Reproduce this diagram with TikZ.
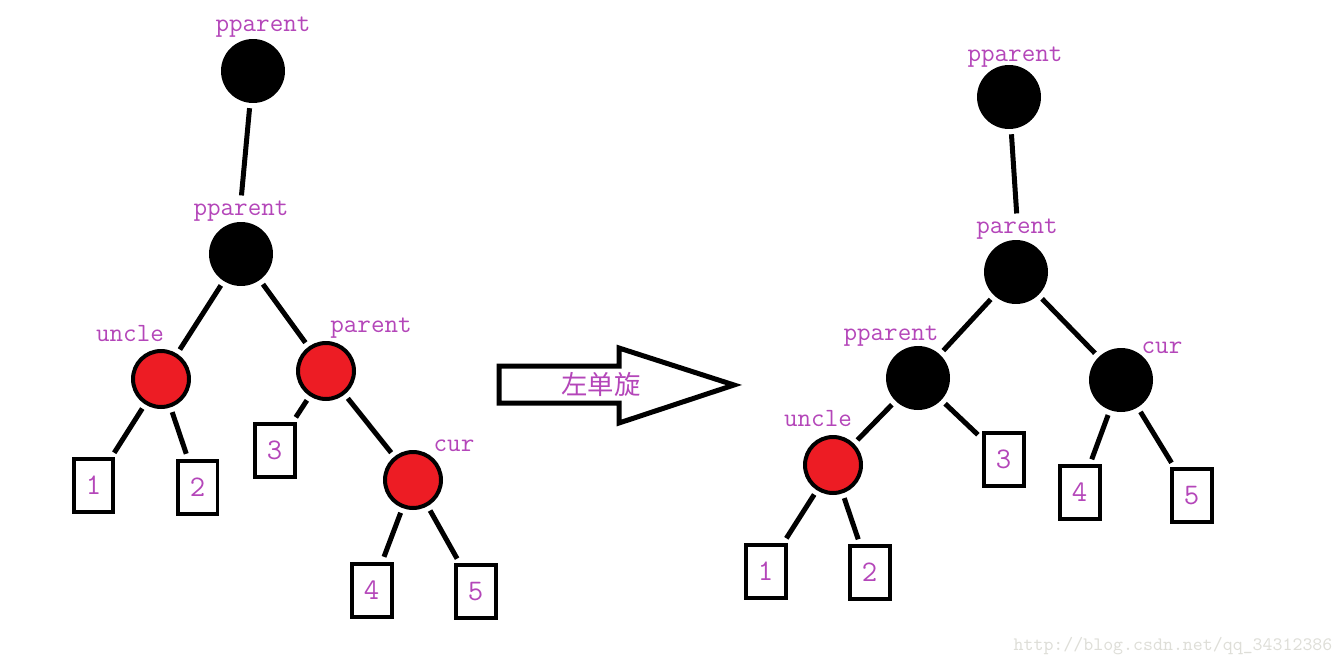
\documentclass[tikz,border=0pt]{standalone}
\usepackage{fontspec}
\newfontfamily\cjk{Noto Sans CJK SC}
\definecolor{lab}{RGB}{180,70,185}
\definecolor{rbred}{RGB}{237,28,36}
\definecolor{wm}{RGB}{222,222,216}
\begin{document}
\begin{tikzpicture}[x=0.02cm,y=-0.02cm,
  blk/.style={circle,fill=black,minimum size=1.28cm,inner sep=0pt},
  rd/.style={circle,fill=rbred,draw=black,line width=0.08cm,minimum size=1.12cm,inner sep=0pt},
  leaf/.style={rectangle,draw=black,line width=0.08cm,minimum width=0.8cm,minimum height=1.06cm,inner sep=0pt,
     text=lab,font=\ttfamily\fontsize{17}{17}\selectfont},
  lbl/.style={text=lab,font=\ttfamily\fontsize{15}{15}\selectfont,inner sep=0pt},
  edge/.style={line width=0.1cm,shorten <=0.1cm,shorten >=0.1cm}]
\useasboundingbox (0,0) rectangle (1344,666);
% ---------- left tree ----------
\node[blk] (Lpp) at (253,71) {};
\node[lbl] (LppL) at (263,27) {pparent};
\node[blk] (Lg) at (241,254) {};
\node[lbl] (LgL) at (241,211) {pparent};
\node[rd] (Lu) at (161,379) {};
\node[lbl] (LuL) at (130,334) {uncle};
\node[rd] (Lp) at (326,371) {};
\node[lbl] (LpL) at (371,328) {parent};
\node[rd] (Lc) at (413,480) {};
\node[lbl] (LcL) at (454,446) {cur};
\node[leaf] (L1) at (93.5,485.5) {1};
\node[leaf] (L2) at (197.5,487) {2};
\node[leaf] (L3) at (274.5,450) {3};
\node[leaf] (L4) at (371.5,590) {4};
\node[leaf] (L5) at (475.5,591.5) {5};
\draw[edge] (Lpp) -- (LgL.north);
\draw[edge] (Lg) -- (Lu);
\draw[edge] (Lg) -- (Lp);
\draw[edge] (Lu) -- (L1);
\draw[edge] (Lu) -- (L2);
\draw[edge] (Lp) -- (L3);
\draw[edge] (Lp) -- (Lc);
\draw[edge] (Lc) -- (L4);
\draw[edge] (Lc) -- (L5);
% ---------- arrow ----------
\coordinate (a1) at (499,366);
\coordinate (a2) at (619,366);
\coordinate (a3) at (619,348);
\coordinate (a4) at (734,385);
\coordinate (a5) at (619,423);
\coordinate (a6) at (619,403);
\coordinate (a7) at (499,403);
\draw[line width=0.1cm,line join=miter] (a1) -- (a2) -- (a3) -- (a4) -- (a5) -- (a6) -- (a7) -- cycle;
\node[text=lab,font=\cjk\fontsize{15}{15}\selectfont,inner sep=0pt] (rot) at (601,384) {左单旋};
% ---------- right tree ----------
\node[blk] (Rpp) at (1009,97) {};
\node[lbl] (RppL) at (1015,57) {pparent};
\node[blk] (Rp) at (1016,272) {};
\node[lbl] (RpL) at (1017,229) {parent};
\node[blk] (Rg) at (918,378) {};
\node[lbl] (RgL) at (891,336) {pparent};
\node[blk] (Rc) at (1121,380) {};
\node[lbl] (RcL) at (1162,348) {cur};
\node[rd] (Ru) at (833,465) {};
\node[lbl] (RuL) at (818,419) {uncle};
\node[leaf] (R1) at (765.5,571) {1};
\node[leaf] (R2) at (869.5,572.5) {2};
\node[leaf] (R3) at (1003.5,459) {3};
\node[leaf] (R4) at (1079.5,492.5) {4};
\node[leaf] (R5) at (1191.5,495.5) {5};
\draw[edge] (Rpp) -- (RpL.north);
\draw[edge] (Rp) -- (Rg);
\draw[edge] (Rp) -- (Rc);
\draw[edge] (Rg) -- (Ru);
\draw[edge] (Rg) -- (R3);
\draw[edge] (Ru) -- (R1);
\draw[edge] (Ru) -- (R2);
\draw[edge] (Rc) -- (R4);
\draw[edge] (Rc) -- (R5);
% ---------- watermark ----------
\node[text=wm,font=\ttfamily\fontsize{10.8}{11}\selectfont,inner sep=0pt] (wmk) at (1173,646) {http://blog.csdn.net/qq\_34312386};
\end{tikzpicture}
\end{document}
